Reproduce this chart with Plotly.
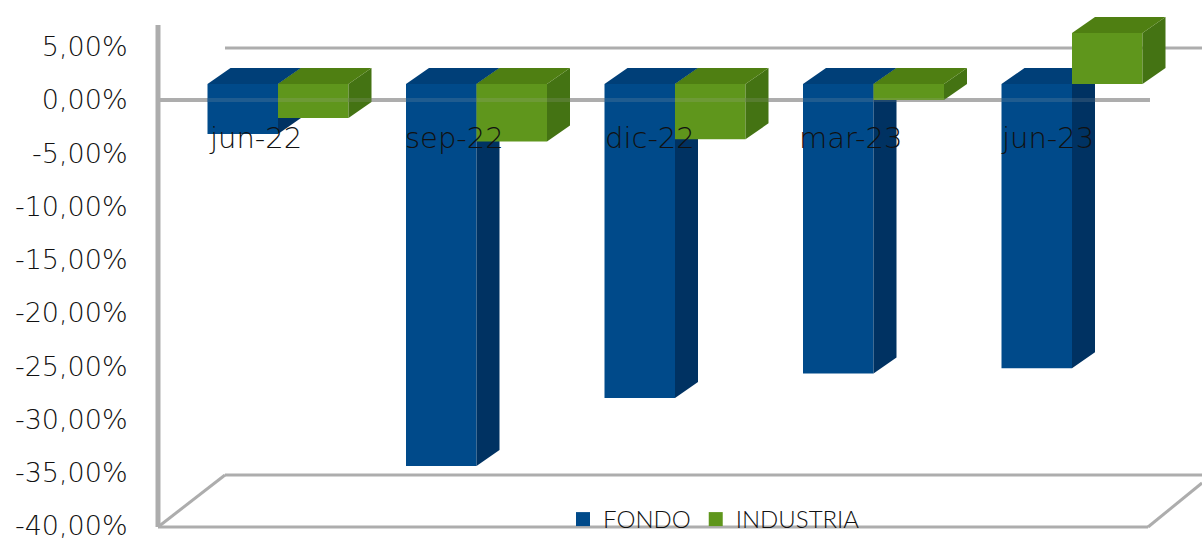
import plotly.graph_objects as go

categories = ["jun-22", "sep-22", "dic-22", "mar-23", "jun-23"]
fondo = [-4.7, -35.9, -29.5, -27.2, -26.7]
industria = [-3.2, -5.4, -5.2, -1.5, 4.8]
tick_vals = [5, 0, -5, -10, -15, -20, -25, -30, -35, -40]
tick_text = ["5,00%", "0,00%", "-5,00%", "-10,00%", "-15,00%", "-20,00%", "-25,00%", "-30,00%", "-35,00%", "-40,00%"]

W, H = 1202, 539
FIG_H = 547  # a little taller than the window, so the legend can sit on the floor line
LEFT = 150
BOTTOM = 16
PITCH = 198.5
X0PX = 278
PXU = 10.644
Y0PX = 100


def xd(px):
    return (px - X0PX) / PITCH


def yd(px):
    return (Y0PX - px) / PXU


BAR_W = 70.5 / PITCH
DX = 23 / PITCH
DY = 16 / PXU
BASE = DY
LABEL_DY = yd(138)
xs = list(range(len(categories)))
GRAY = "#ADADAD"


def faces(values, offset):
    side_x, side_y, top_x, top_y = [], [], [], []
    for i, v in zip(xs, values):
        x0 = i + offset
        x1 = x0 + BAR_W
        lo, hi = min(BASE, BASE + v), max(BASE, BASE + v)
        side_x += [x1, x1 + DX, x1 + DX, x1, x1, None]
        side_y += [lo, lo + DY, hi + DY, hi, lo, None]
        top_x += [x0, x1, x1 + DX, x0 + DX, x0, None]
        top_y += [hi, hi, hi + DY, hi + DY, hi, None]
    return side_x, side_y, top_x, top_y


fig = go.Figure()


def add_series(name, values, offset, front, side, top, xa, ya):
    sx, sy, tx, ty = faces(values, offset)
    fig.add_trace(go.Bar(name=name, x=xs, y=values, base=[BASE] * len(values), width=BAR_W, offset=offset,
                         marker=dict(color=front, line=dict(width=0)), xaxis=xa, yaxis=ya, hoverinfo="y",
                         showlegend=False))
    for px, py, color in ((sx, sy, side), (tx, ty, top)):
        fig.add_trace(go.Scatter(x=px, y=py, mode="lines", fill="toself", fillcolor=color,
                                 line=dict(width=0, color=color), showlegend=False, hoverinfo="skip",
                                 xaxis=xa, yaxis=ya))
    fig.add_trace(go.Scatter(name=name, x=[None], y=[None], mode="markers", xaxis=xa, yaxis=ya,
                             marker=dict(symbol="square", size=14, color=front)))


add_series("FONDO", fondo, -BAR_W, "#004A8A", "#003262", "#003F78", "x", "y")
add_series("INDUSTRIA", industria, 0, "#5F961C", "#447313", "#4F7F12", "x2", "y2")

walls = [
    (158, 25, 158, 527, 5), (158, 527, 1148, 527, 3), (158, 527, 225, 475, 3),
    (225, 475, 1202, 475, 3), (1148, 527, 1202, 483, 3), (225, 48, 1202, 48, 3),
    (158, 100, 1150, 100, 4),
]
shapes = [dict(type="line", xref="x", yref="y", x0=xd(a), y0=yd(b), x1=xd(c), y1=yd(d), layer="below",
               line=dict(color=GRAY, width=w)) for a, b, c, d, w in walls]
shapes.append(dict(type="line", xref="x", yref="y", x0=xd(208), y0=0, x1=xd(1095), y1=0, layer="above",
                   opacity=0.18, line=dict(color=GRAY, width=4)))

label_px = [255, 454, 650, 850, 1047]
annotations = [dict(x=xd(p), y=LABEL_DY, xref="x", yref="y", text=c, showarrow=False, xanchor="center", yanchor="middle",
                    font=dict(family="DejaVu Sans", size=29, color="#111111", weight=200))
               for p, c in zip(label_px, categories)]

xr = [xd(LEFT), xd(W)]
plot_h = FIG_H - BOTTOM
yr = [yd(plot_h), yd(0)]
fig.update_layout(
    width=W, height=FIG_H, margin=dict(l=LEFT, r=0, t=0, b=BOTTOM), autosize=False,
    paper_bgcolor="white", plot_bgcolor="white", barmode="overlay", showlegend=True,
    shapes=shapes, annotations=annotations,
    legend=dict(orientation="h", x=(563 - LEFT) / (W - LEFT), y=(plot_h - 542) / plot_h, xanchor="left", yanchor="bottom",
                bgcolor="rgba(0,0,0,0)", font=dict(family="Lato, DejaVu Sans", size=24, color="#111111", weight=300),
                itemwidth=30, tracegroupgap=0),
    xaxis=dict(range=xr, visible=False, fixedrange=True),
    xaxis2=dict(range=xr, visible=False, overlaying="x", matches="x", fixedrange=True),
    yaxis=dict(range=yr, tickvals=tick_vals, ticktext=tick_text, showgrid=False, zeroline=False, showline=False,
               ticks="outside", ticklen=16, tickcolor="rgba(0,0,0,0)", ticklabeloverflow="allow",
               tickfont=dict(family="DejaVu Sans", size=27, color="#111111", weight=200), fixedrange=True),
    yaxis2=dict(range=yr, visible=False, overlaying="y", matches="y", fixedrange=True),
)
fig.write_html("out.html", config={"displayModeBar": False},
               post_script="document.body.style.margin='0';document.body.style.overflow='hidden';")
